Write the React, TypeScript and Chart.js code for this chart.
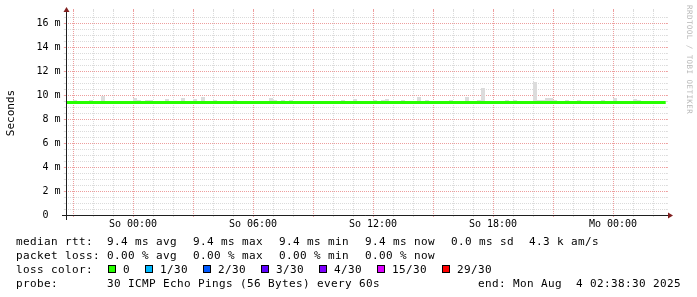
import React, { useEffect, useRef } from "react";
import { Chart, registerables } from "chart.js";

Chart.register(...registerables);

// ---- data (time = minutes relative to "So 00:00", values in ms) ----
const windowStart = -201.5; // Sa 20:38:30
const windowEnd = 1598.5; // Mo 02:38:30
const binMinutes = 12;

const xTickMinutes = [0, 360, 720, 1080, 1440];
const xTickLabels = ["So 00:00", "So 06:00", "So 12:00", "So 18:00", "Mo 00:00"];
const yTickValues = [0, 2, 4, 6, 8, 10, 12, 14, 16];
const yTickLabels = ["0  ", "2 m", "4 m", "6 m", "8 m", "10 m", "12 m", "14 m", "16 m"];

const medianTimes = [windowStart, windowEnd];
const medianMs = [9.38, 9.38];

// 12-minute bins whose smoke shows above the median line
const smokeBinStart = [
  -180, -132, -96, 0, 12, 36, 48, 96, 144, 180,
  204, 240, 300, 408, 420, 444, 468, 624, 660, 720,
  744, 756, 804, 852, 876, 948, 996, 1032, 1044, 1116,
  1140, 1200, 1212, 1224, 1236, 1248, 1260, 1296, 1332, 1404,
  1440, 1500, 1512,
];
const smokeTopMs = [
  9.58, 9.58, 9.92, 9.75, 9.58, 9.58, 9.58, 9.67, 9.75, 9.67,
  9.83, 9.58, 9.58, 9.75, 9.58, 9.58, 9.58, 9.58, 9.67, 9.58,
  9.58, 9.67, 9.58, 9.83, 9.58, 9.58, 9.83, 9.58, 10.58, 9.58,
  9.58, 11.08, 9.58, 9.58, 9.75, 9.75, 9.58, 9.58, 9.58, 9.58,
  9.75, 9.67, 9.58,
];
const smokeBaseMs = 9.3;

const rttLabel = "median rtt:";
const rttStats = ["9.4 ms avg", "9.4 ms max", "9.4 ms min", "9.4 ms now", "0.0 ms sd", "4.3 k am/s"];
const lossLabel = "packet loss:";
const lossStats = ["0.00 % avg", "0.00 % max", "0.00 % min", "0.00 % now"];
const lossColorLabel = "loss color:";
const lossColorLabels = ["0", "1/30", "2/30", "3/30", "4/30", "15/30", "29/30"];
const lossColors = ["#26ff00", "#00b8ff", "#0059ff", "#5e00ff", "#7e00ff", "#dd00ff", "#ff0000"];
const probeLabel = "probe:";
const probeText = "30 ICMP Echo Pings (56 Bytes) every 60s";
const endText = "end: Mon Aug  4 02:38:30 2025";
const watermark = "RRDTOOL / TOBI OETIKER";

// ---- styles ----
const W = 697;
const H = 297;
const PLOT_LEFT = 65.84;
const PLOT_RIGHT = 665.84;
const PLOT_TOP = 11.01;
const PLOT_BOTTOM = 215.01;
const MINOR = "rgba(143,143,143,0.32)";
const MAJOR = "rgba(222,79,79,0.55)";
const AXIS = "#1f1f1f";
const ARROW = "#801f1f";
const MONO = '"DejaVu Sans Mono", monospace';

const isMajorX = (v: number) => Math.abs(v / 180 - Math.round(v / 180)) < 1e-6;
const isMajorY = (v: number) => Math.abs(v / 2 - Math.round(v / 2)) < 1e-6;

const rrdFrame = {
  id: "rrdFrame",
  afterDraw(chart: any) {
    const { ctx, chartArea: a } = chart;
    const xs = chart.scales.x;
    const ys = chart.scales.y;
    ctx.save();
    ctx.lineWidth = 1;
    ctx.setLineDash([]);
    for (const t of ys.ticks) {
      const py = Math.floor(ys.getPixelForValue(t.value)) + 0.5;
      ctx.strokeStyle = isMajorY(t.value) ? MAJOR : MINOR;
      ctx.beginPath();
      ctx.moveTo(a.right, py);
      ctx.lineTo(a.right + 2, py);
      ctx.stroke();
    }
    for (const t of xs.ticks) {
      const px = Math.floor(xs.getPixelForValue(t.value)) + 0.5;
      ctx.strokeStyle = isMajorX(t.value) ? MAJOR : MINOR;
      ctx.beginPath();
      ctx.moveTo(px, a.top - 2);
      ctx.lineTo(px, a.top);
      ctx.stroke();
    }
    const ox = Math.round(a.left) + 0.5;
    const oy = Math.floor(ys.getPixelForValue(0)) + 0.5;
    ctx.strokeStyle = AXIS;
    ctx.beginPath();
    ctx.moveTo(ox - 4.5, oy);
    ctx.lineTo(a.right + 4, oy);
    ctx.stroke();
    ctx.beginPath();
    ctx.moveTo(ox, oy + 4.5);
    ctx.lineTo(ox, a.top - 2);
    ctx.stroke();
    ctx.fillStyle = ARROW;
    const ex = Math.round(a.right) + 2;
    ctx.beginPath();
    ctx.moveTo(ex, oy - 3);
    ctx.lineTo(ex, oy + 3);
    ctx.lineTo(ex + 5, oy);
    ctx.closePath();
    ctx.fill();
    const ty = Math.round(a.top) + 1;
    ctx.beginPath();
    ctx.moveTo(ox - 3, ty);
    ctx.lineTo(ox + 3, ty);
    ctx.lineTo(ox, ty - 5);
    ctx.closePath();
    ctx.fill();
    // watermark
    ctx.translate(687, 5);
    ctx.rotate(Math.PI / 2);
    ctx.font = `7.5px ${MONO}`;
    try {
      (ctx as any).letterSpacing = "0.45px";
    } catch (e) {}
    ctx.fillStyle = "rgba(0,0,0,0.3)";
    ctx.textAlign = "left";
    ctx.textBaseline = "alphabetic";
    ctx.fillText(watermark, 0, 0);
    ctx.restore();
  },
};

export default function App() {
  const ref = useRef<HTMLCanvasElement | null>(null);

  useEffect(() => {
    if (!ref.current) return;
    const hourly: number[] = [];
    for (let m = -180; m <= windowEnd; m += 60) hourly.push(m);
    const halfMs: number[] = [];
    for (let v = 0; v <= 16.5; v += 0.5) halfMs.push(v);

    const tickFont = { family: MONO, size: 10 };
    const gridColorX = (c: any) => (c.tick && isMajorX(c.tick.value) ? MAJOR : MINOR);
    const gridColorY = (c: any) => (c.tick && isMajorY(c.tick.value) ? MAJOR : MINOR);

    const chart = new Chart(ref.current, {
      type: "bar",
      data: {
        datasets: [
          {
            type: "line",
            label: "median",
            data: medianTimes.map((t, i) => ({ x: t, y: medianMs[i] })),
            borderColor: "#26ff00",
            borderWidth: 3,
            pointRadius: 0,
            fill: false,
            order: 0,
          } as any,
          {
            type: "bar",
            label: "smoke",
            data: smokeBinStart.map((t, i) => ({ x: t + binMinutes / 2, y: [smokeBaseMs, smokeTopMs[i]] })),
            backgroundColor: "#dcdcdc",
            borderWidth: 0,
            barPercentage: 1,
            categoryPercentage: 1,
            inflateAmount: 0,
            order: 1,
          } as any,
        ],
      },
      options: {
        animation: false,
        responsive: false,
        maintainAspectRatio: false,
        events: [],
        layout: { padding: { left: 0, top: PLOT_TOP, right: W - PLOT_RIGHT, bottom: 0 } },
        plugins: { legend: { display: false }, tooltip: { enabled: false }, title: { display: false } },
        scales: {
          x: {
            type: "linear",
            min: windowStart,
            max: windowEnd,
            offset: false,
            afterBuildTicks: (s: any) => {
              s.ticks = hourly.map((v) => ({ value: v }));
            },
            afterFit: (s: any) => {
              s.height = H - PLOT_BOTTOM;
            },
            ticks: {
              autoSkip: false,
              maxRotation: 0,
              minRotation: 0,
              padding: 1.5,
              font: tickFont,
              color: "#000",
              callback: (v: any) => {
                const i = xTickMinutes.indexOf(Number(v));
                return i >= 0 ? xTickLabels[i] : "";
              },
            },
            grid: {
              color: gridColorX,
              tickColor: gridColorX,
              lineWidth: 1,
              drawTicks: true,
              tickLength: 2,
              tickBorderDash: [],
              offset: false,
            },
            border: { display: false, dash: [1, 1] },
          },
          y: {
            type: "linear",
            min: 0,
            max: 17,
            afterBuildTicks: (s: any) => {
              s.ticks = halfMs.map((v) => ({ value: v }));
            },
            afterFit: (s: any) => {
              s.width = PLOT_LEFT;
            },
            ticks: {
              autoSkip: false,
              padding: 3.3,
              font: tickFont,
              color: "#000",
              callback: (v: any) => {
                const i = yTickValues.indexOf(Number(v));
                return i >= 0 ? yTickLabels[i] : "";
              },
            },
            grid: {
              color: gridColorY,
              tickColor: gridColorY,
              lineWidth: 1,
              drawTicks: true,
              tickLength: 2,
              tickBorderDash: [],
            },
            border: { display: false, dash: [1, 1] },
            title: {
              display: true,
              text: "Seconds",
              color: "#000",
              font: { family: MONO, size: 11 },
              padding: { top: 4.6, bottom: 0 },
            },
          },
        },
      },
      plugins: [rrdFrame],
    } as any);
    return () => chart.destroy();
  }, []);

  const rowTop = [234.7, 248.7, 262.7, 276.7];
  const fieldX = [107, 193, 279, 365, 451, 529];
  const txt = (key: string, x: number, top: number, s: string) => (
    <div
      key={key}
      style={{
        position: "absolute",
        left: x,
        top,
        font: `11px ${MONO}`,
        letterSpacing: "0.38px",
        lineHeight: "14px",
        whiteSpace: "pre",
        color: "#000",
      }}
    >
      {s}
    </div>
  );

  const swatches: any[] = [];
  let bx = 108;
  lossColorLabels.forEach((lab, i) => {
    swatches.push(
      <div
        key={"b" + i}
        style={{
          position: "absolute",
          left: bx,
          top: 265,
          width: 8,
          height: 8,
          boxSizing: "border-box",
          border: "1px solid #000",
          background: lossColors[i],
        }}
      />
    );
    swatches.push(txt("bl" + i, bx + 15, rowTop[2], lab));
    bx += 15 + 7 * lab.length + 15;
  });

  return (
    <div style={{ position: "absolute", left: 0, top: 0, width: W, height: H, background: "#fff", overflow: "hidden" }}>
      <canvas ref={ref} width={W} height={H} style={{ display: "block", position: "absolute", left: 0, top: 0 }} />
      {txt("r0", 16, rowTop[0], rttLabel)}
      {rttStats.map((s, i) => txt("rs" + i, fieldX[i], rowTop[0], s))}
      {txt("l0", 16, rowTop[1], lossLabel)}
      {lossStats.map((s, i) => txt("ls" + i, fieldX[i], rowTop[1], s))}
      {txt("c0", 16, rowTop[2], lossColorLabel)}
      {swatches}
      {txt("p0", 16, rowTop[3], probeLabel)}
      {txt("p1", 107, rowTop[3], probeText)}
      {txt("p2", 478, rowTop[3], endText)}
    </div>
  );
}
